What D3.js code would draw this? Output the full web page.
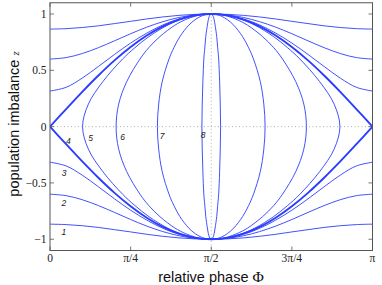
<!DOCTYPE html>
<html>
<head>
<meta charset="utf-8">
<script src="https://cdn.jsdelivr.net/npm/d3@7/dist/d3.min.js"></script>
<style>
  body { margin: 0; background: #fff; }
  svg { display: block; }
  .tick-label { font-family: 'Liberation Serif', 'DejaVu Serif', serif; font-size: 11.5px; fill: #222; }
  .axis-title { font-family: 'Liberation Sans', Arial, sans-serif; font-size: 14.5px; fill: #111; }
  .axis-sym { font-family: 'Liberation Serif', serif; }
  .curve-label { font-family: 'Liberation Sans', Arial, sans-serif; font-size: 8.5px; font-style: italic; fill: #222; }
</style>
</head>
<body>
<div id="chart"></div>
<script>
// phase in units of pi
const phiTicks = [0, 0.25, 0.5, 0.75, 1];
const phiTickLabels = ['0', 'π/4', 'π/2', '3π/4', 'π'];
const zTicks = [-1, -0.5, 0, 0.5, 1];
const zTickLabels = ['−1', '−0.5', '0', '0.5', '1'];

// open orbits, read for 0 <= phi <= pi/2, z > 0 (the rest is the mirror image)
const phiGrid = [0, 0.05, 0.1, 0.15, 0.2, 0.25, 0.3, 0.35, 0.4, 0.45, 0.5];
const open1 = [0.866, 0.87, 0.88, 0.895, 0.915, 0.935, 0.956, 0.974, 0.988, 0.997, 1];
const open2 = [0.60, 0.613, 0.649, 0.701, 0.762, 0.825, 0.883, 0.932, 0.969, 0.992, 1];
const open3 = [0.316, 0.349, 0.431, 0.534, 0.641, 0.742, 0.830, 0.903, 0.956, 0.989, 1];
const separatrix = [0, 0.156, 0.309, 0.454, 0.588, 0.707, 0.809, 0.891, 0.951, 0.988, 1];

// closed orbits, phase of the left branch read for 0 <= z <= 1
const zGrid = [0, 0.2, 0.4, 0.6, 0.7, 0.8, 0.9, 0.95, 0.98, 0.99, 0.995, 1];
const closed5 = [0.101, 0.119, 0.164, 0.225, 0.263, 0.307, 0.364, 0.404, 0.439, 0.457, 0.470, 0.5];
const closed6 = [0.205, 0.213, 0.238, 0.279, 0.306, 0.341, 0.387, 0.420, 0.449, 0.464, 0.475, 0.5];
const closed7 = [0.333, 0.337, 0.348, 0.369, 0.384, 0.403, 0.430, 0.450, 0.468, 0.478, 0.484, 0.5];
const closed8 = [0.471, 0.472, 0.474, 0.477, 0.480, 0.483, 0.488, 0.491, 0.494, 0.496, 0.497, 0.5];

const curveNames = ['1', '2', '3', '4', '5', '6', '7', '8'];
const labelSpots = [[0.043, -0.94], [0.043, -0.68], [0.044, -0.41], [0.057, -0.13],
  [0.126, -0.105], [0.225, -0.096], [0.348, -0.087], [0.475, -0.078]];

const W = 382, H = 285;
const x = d3.scaleLinear().domain([0, 1]).range([50, 372.5]);
const y = d3.scaleLinear().domain([-1.1, 1.1]).range([250.5, 2.75]);

const svg = d3.select('#chart').append('svg')
  .attr('width', W).attr('height', H);

svg.append('defs').append('clipPath').attr('id', 'clip')
  .append('rect')
  .attr('x', x(0)).attr('y', y(1.1))
  .attr('width', x(1) - x(0)).attr('height', y(-1.1) - y(1.1));

// dotted grid at z = 0 and phi = pi/2
svg.append('line')
  .attr('x1', x(0)).attr('x2', x(1)).attr('y1', y(0)).attr('y2', y(0))
  .attr('stroke', '#9a9a9a').attr('stroke-width', 0.8).attr('stroke-dasharray', '1,2.5');
svg.append('line')
  .attr('x1', x(0.5)).attr('x2', x(0.5)).attr('y1', y(1.1)).attr('y2', y(-1.1))
  .attr('stroke', '#9a9a9a').attr('stroke-width', 0.8).attr('stroke-dasharray', '1,2.5');

const line = d3.line()
  .x(d => x(d[0]))
  .y(d => y(d[1]))
  .curve(d3.curveCatmullRom.alpha(0.5));

const lineClosed = d3.line()
  .x(d => x(d[0]))
  .y(d => y(d[1]))
  .curve(d3.curveCatmullRomClosed.alpha(0.5));

const g = svg.append('g').attr('clip-path', 'url(#clip)');

// open orbit: left half plus its mirror about pi/2, above or below z = 0
function openPoints (zs, sign) {
  const left = phiGrid.map((p, i) => [p, sign * zs[i]]);
  const right = phiGrid.slice(0, -1).reverse().map(p => [1 - p, sign * zs[phiGrid.indexOf(p)]]);
  return left.concat(right);
}

function closedPoints (ps) {
  const up = zGrid.map((z, i) => [ps[i], z]);
  const down = zGrid.slice(1).reverse().map(z => [ps[zGrid.indexOf(z)], -z]);
  const leftBranch = down.concat(up); // z from -1 to 1
  const rightBranch = leftBranch.slice(1, -1).reverse().map(d => [1 - d[0], d[1]]);
  return leftBranch.concat(rightBranch);
}

const blue = '#2b3dff';

[open1, open2, open3].forEach(zs => {
  [1, -1].forEach(s => {
    g.append('path')
      .attr('d', line(openPoints(zs, s)))
      .attr('fill', 'none').attr('stroke', blue).attr('stroke-width', 0.9);
  });
});

[1, -1].forEach(s => {
  g.append('path')
    .attr('d', line(openPoints(separatrix, s)))
    .attr('fill', 'none').attr('stroke', blue).attr('stroke-width', 1.9);
});

[closed5, closed6, closed7, closed8].forEach(ps => {
  g.append('path')
    .attr('d', lineClosed(closedPoints(ps)))
    .attr('fill', 'none').attr('stroke', blue).attr('stroke-width', 0.9);
});

// curve numbers
svg.selectAll('.curve-label')
  .data(curveNames)
  .enter()
  .append('text')
  .attr('class', 'curve-label')
  .attr('x', (d, i) => x(labelSpots[i][0]))
  .attr('y', (d, i) => y(labelSpots[i][1]))
  .attr('dy', '0.35em')
  .attr('text-anchor', 'middle')
  .text(d => d);

// axes box with inward ticks on all sides
svg.append('rect')
  .attr('x', x(0)).attr('y', y(1.1))
  .attr('width', x(1) - x(0)).attr('height', y(-1.1) - y(1.1))
  .attr('fill', 'none').attr('stroke', '#555').attr('stroke-width', 1);

const tl = 4;
phiTicks.forEach(t => {
  svg.append('line').attr('x1', x(t)).attr('x2', x(t))
    .attr('y1', y(-1.1)).attr('y2', y(-1.1) - tl)
    .attr('stroke', '#555').attr('stroke-width', 0.8);
  svg.append('line').attr('x1', x(t)).attr('x2', x(t))
    .attr('y1', y(1.1)).attr('y2', y(1.1) + tl)
    .attr('stroke', '#555').attr('stroke-width', 0.8);
});
zTicks.forEach(t => {
  svg.append('line').attr('x1', x(0)).attr('x2', x(0) + tl)
    .attr('y1', y(t)).attr('y2', y(t))
    .attr('stroke', '#555').attr('stroke-width', 0.8);
  svg.append('line').attr('x1', x(1)).attr('x2', x(1) - tl)
    .attr('y1', y(t)).attr('y2', y(t))
    .attr('stroke', '#555').attr('stroke-width', 0.8);
});

svg.selectAll('.xlab')
  .data(phiTicks)
  .enter()
  .append('text')
  .attr('class', 'tick-label xlab')
  .attr('x', d => x(d))
  .attr('y', 262)
  .attr('text-anchor', 'middle')
  .text((d, i) => phiTickLabels[i]);

svg.selectAll('.ylab')
  .data(zTicks)
  .enter()
  .append('text')
  .attr('class', 'tick-label ylab')
  .attr('x', 46.5)
  .attr('y', d => y(d))
  .attr('dy', '0.35em')
  .attr('text-anchor', 'end')
  .text((d, i) => zTickLabels[i]);

// axis titles
const xt = svg.append('text')
  .attr('class', 'axis-title')
  .attr('x', 211)
  .attr('y', 282)
  .attr('text-anchor', 'middle');
xt.append('tspan').text('relative phase  ');
xt.append('tspan').attr('class', 'axis-sym').attr('font-size', '15.5px').text('Φ');

const yt = svg.append('text')
  .attr('class', 'axis-title')
  .attr('transform', 'translate(19,124) rotate(-90)')
  .attr('text-anchor', 'middle');
yt.append('tspan').text('population imbalance  ');
yt.append('tspan').attr('class', 'axis-sym').attr('font-style', 'italic').attr('font-size', '11px').text('z');
</script>
</body>
</html>
